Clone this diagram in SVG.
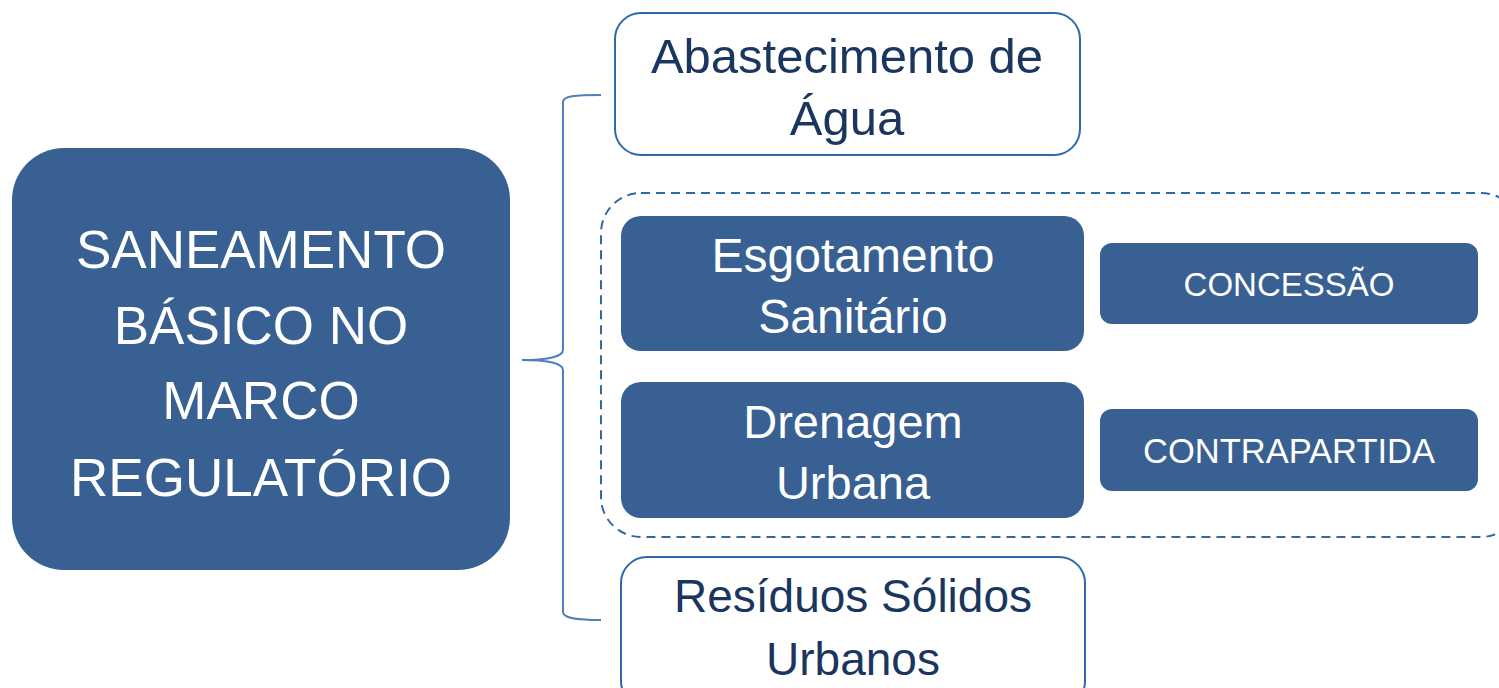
<svg xmlns="http://www.w3.org/2000/svg" width="1499" height="688" viewBox="0 0 1499 688">
<style>
.solid{fill:#386092}
.outline{fill:#ffffff;stroke:#2C6AA8;stroke-width:2}
.wt{fill:#ffffff;font-family:"Liberation Sans",Arial,sans-serif;text-anchor:middle}
.dt{fill:#1A365F;font-family:"Liberation Sans",Arial,sans-serif;text-anchor:middle}
.big{font-size:53px}
.mid{font-size:47px}
.sm{font-size:33px}
</style>
<rect width="1499" height="688" fill="#ffffff"/>
<g id="connectors">
<path d="M601,95 C575,95 563,96 563,102 L563,350 C563,357 545,360 522,360 C545,360 563,363 563,370 L563,612 C563,618 575,620 601,620" fill="none" stroke="#4F7FBA" stroke-width="2"/>
</g>
<g id="group-dashed">
<rect x="601" y="193" width="920" height="344" rx="40" fill="none" stroke="#2C6AA8" stroke-width="2" stroke-dasharray="9 6"/>
</g>
<g id="node-main">
<rect class="solid" x="12" y="148" width="498" height="422" rx="52"/>
<text class="wt big" x="261" y="268">SANEAMENTO</text>
<text class="wt big" x="261" y="344">BÁSICO NO</text>
<text class="wt big" x="261" y="419">MARCO</text>
<text class="wt big" x="261" y="496">REGULATÓRIO</text>
</g>
<g id="node-agua">
<rect class="outline" x="615" y="13" width="465" height="142" rx="26"/>
<text class="dt" style="font-size:49px" x="847" y="73">Abastecimento de</text>
<text class="dt" style="font-size:49px" x="847" y="135">Água</text>
</g>
<g id="node-esgoto">
<rect class="solid" x="621" y="216" width="463" height="135" rx="20"/>
<text class="wt" style="font-size:48px" x="853" y="272">Esgotamento</text>
<text class="wt" style="font-size:48px" x="853" y="333">Sanitário</text>
</g>
<g id="node-drenagem">
<rect class="solid" x="621" y="382" width="463" height="136" rx="20"/>
<text class="wt mid" x="853" y="438">Drenagem</text>
<text class="wt mid" x="853" y="499">Urbana</text>
</g>
<g id="node-concessao">
<rect class="solid" x="1100" y="243" width="378" height="81" rx="12"/>
<text class="wt sm" x="1289" y="296">CONCESSÃO</text>
</g>
<g id="node-contrapartida">
<rect class="solid" x="1100" y="409" width="378" height="82" rx="12"/>
<text class="wt" style="font-size:34.5px" x="1289" y="463">CONTRAPARTIDA</text>
</g>
<g id="node-residuos">
<rect class="outline" x="621" y="557" width="464" height="150" rx="26"/>
<text class="dt" style="font-size:46px" x="853" y="612">Resíduos Sólidos</text>
<text class="dt" style="font-size:46px" x="853" y="675">Urbanos</text>
</g>
</svg>
